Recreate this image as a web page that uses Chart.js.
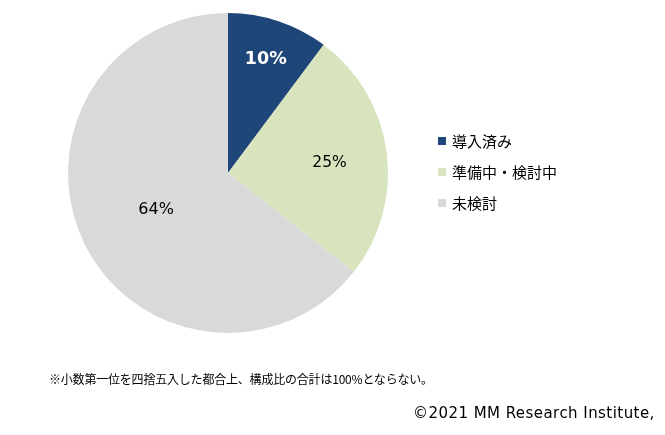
<!DOCTYPE html>
<html>
<head>
<meta charset="utf-8">
<script src="https://cdn.jsdelivr.net/npm/chart.js@4"></script>
<style>
  html, body { margin: 0; padding: 0; background: #ffffff; }
  #wrap { position: relative; width: 665px; height: 435px; overflow: hidden; }
  #c { position: absolute; left: 0; top: 0; }
  .note { position: absolute; left: 49px; top: 370px; font-family: "Noto Sans CJK JP", sans-serif; font-size: 12px; color: #000; white-space: nowrap; letter-spacing: -0.2px; }
  .copy { position: absolute; left: 413px; top: 404px; font-family: "DejaVu Sans", Verdana, sans-serif; font-size: 15px; color: #000; white-space: nowrap; letter-spacing: 0.45px; }
</style>
</head>
<body>
<div id="wrap">
  <canvas id="c" width="665" height="435"></canvas>
  <div class="note">※小数第一位を四捨五入した都合上、構成比の合計は100%とならない。</div>
  <div class="copy">©2021 MM Research Institute,</div>
</div>
<script>
const categories = ["導入済み", "準備中・検討中", "未検討"];
const shares = [10.2, 25.4, 64.4];
const sliceColors = ["#1F4679", "#D7E4BD", "#D9D9D9"];
const labelColors = ["#ffffff", "#000000", "#000000"];
const labelWeights = ["bold", "normal", "normal"];
const labelSizes = [17.5, 15.5, 16];
const labelRadiusFactor = [0.75, 0.64, 0.5];
const labelYShift = [0, 3, 2];

const labelPlugin = {
  id: "sliceLabels",
  afterDatasetsDraw(chart) {
    const ctx = chart.ctx;
    const meta = chart.getDatasetMeta(0);
    ctx.save();
    ctx.textAlign = "center";
    ctx.textBaseline = "middle";
    meta.data.forEach((arc, i) => {
      const p = arc.getProps(["x", "y", "startAngle", "endAngle", "outerRadius"], true);
      const mid = (p.startAngle + p.endAngle) / 2;
      const r = p.outerRadius * labelRadiusFactor[i];
      const x = p.x + Math.cos(mid) * r;
      const y = p.y + Math.sin(mid) * r + labelYShift[i];
      ctx.fillStyle = labelColors[i];
      ctx.font = labelWeights[i] + " " + labelSizes[i] + "px 'DejaVu Sans', Verdana, sans-serif";
      ctx.fillText(Math.round(shares[i]) + "%", x, y);
    });
    ctx.restore();
  }
};

const legendPlugin = {
  id: "sideLegend",
  afterDraw(chart) {
    const ctx = chart.ctx;
    const labels = chart.data.labels;
    const colors = chart.data.datasets[0].backgroundColor;
    const x0 = 438, y0 = 141, gap = 31;
    ctx.save();
    ctx.textBaseline = "middle";
    ctx.textAlign = "left";
    ctx.font = "15px 'Noto Sans CJK JP', sans-serif";
    labels.forEach((lab, i) => {
      const y = y0 + i * gap;
      ctx.fillStyle = colors[i];
      ctx.fillRect(x0, y - 4, 8, 8);
      ctx.fillStyle = "#000000";
      ctx.fillText(lab, x0 + 14, y);
    });
    ctx.restore();
  }
};

new Chart(document.getElementById("c"), {
  type: "pie",
  data: {
    labels: categories,
    datasets: [{
      data: shares,
      backgroundColor: sliceColors,
      borderWidth: 0,
      hoverOffset: 0
    }]
  },
  options: {
    responsive: false,
    animation: false,
    layout: { padding: { left: 68, top: 13, right: 277, bottom: 102 } },
    plugins: {
      legend: { display: false },
      tooltip: { enabled: false }
    }
  },
  plugins: [labelPlugin, legendPlugin]
});
</script>
</body>
</html>
